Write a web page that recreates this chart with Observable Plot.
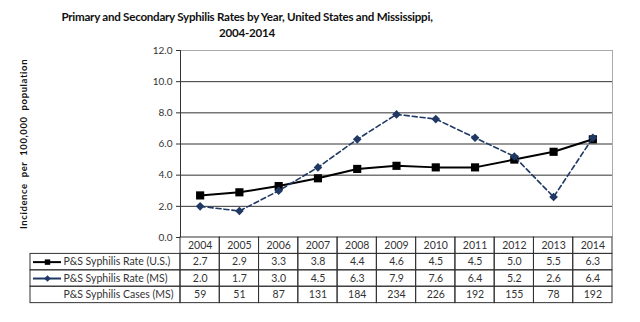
<!DOCTYPE html>
<html><head><meta charset="utf-8">
<script src="https://cdn.jsdelivr.net/npm/d3@7"></script>
<script src="https://cdn.jsdelivr.net/npm/@observablehq/plot@0.6"></script>
<style>
body{margin:0;background:#fff;}
#wrap{position:relative;width:640px;height:322px;overflow:hidden;background:#fff;font-family:Lato,sans-serif;}
#title{position:absolute;left:0;top:9px;width:494px;text-align:center;font-weight:bold;font-size:11.6px;line-height:16px;color:#111;letter-spacing:-0.25px;}
#chart{position:absolute;left:0;top:0;}
</style></head>
<body>
<div id="wrap">
<div id="chart"></div>
<div id="title">Primary and Secondary Syphilis Rates by Year, United States and Mississippi,<br>2004-2014</div>
</div>
<script>
const years = [2004,2005,2006,2007,2008,2009,2010,2011,2012,2013,2014];
const usRate = [2.7,2.9,3.3,3.8,4.4,4.6,4.5,4.5,5.0,5.5,6.3];
const msRate = [2.0,1.7,3.0,4.5,6.3,7.9,7.6,6.4,5.2,2.6,6.4];
const msCases = [59,51,87,131,184,234,226,192,155,78,192];
const yTicks = [0,2,4,6,8,10,12];
const rowLabels = ["P&S Syphilis Rate (U.S.)","P&S Syphilis Rate (MS)","P&S Syphilis Cases (MS)"];
const yTitle = "Incidence per 100,000 population";

const f1 = d3.format(".1f");
const rowH = 1.053;
const x0 = years[0] - 0.5, xN = years[years.length-1] + 0.5;
const msColor = "#1f3864";

const us = years.map((y,i)=>({year:y, v:usRate[i]}));
const ms = years.map((y,i)=>({year:y, v:msRate[i]}));

const rows = [
  {k:0, values: years.map(String)},
  {k:1, values: usRate.map(f1), label: rowLabels[0]},
  {k:2, values: msRate.map(f1), label: rowLabels[1]},
  {k:3, values: msCases.map(String), label: rowLabels[2]}
];
const cells = rows.flatMap(r => years.map((yr,i)=>({year:yr, k:r.k, text:r.values[i]})));
const labelRows = rows.filter(r=>r.label);
const legendRows = [
  {k:1, color:"#000", dash:null, symbol:"square", r:3.4},
  {k:2, color:msColor, dash:"4,3", symbol:"diamond2", r:3.2}
];
const yc = k => -(k+0.5)*rowH;

const plot = Plot.plot({
  width:640, height:322,
  marginTop:50, marginBottom:85, marginLeft:180, marginRight:28,
  style:{fontFamily:"Lato, sans-serif", fontSize:"10px", color:"#333", background:"white"},
  x:{type:"linear", domain:[x0,xN], axis:null},
  y:{domain:[0,12], axis:null},
  marks:[
    Plot.ruleY(yTicks.filter(t=>t>0 && t<12), {stroke:"#333", strokeWidth:1}),
    Plot.ruleY(yTicks.filter(t=>t===12), {stroke:"#aaa", strokeWidth:1}),
    Plot.ruleX([xN], {y1:0, y2:12, stroke:"#aaa"}),
    Plot.ruleX([x0], {y1:0, y2:12, stroke:"#333"}),
    Plot.axisY({ticks:yTicks, tickFormat:f1, tickSize:4, tickPadding:4, label:yTitle, labelAnchor:"center", labelOffset:160, labelArrow:"none", stroke:"#333"}),
    // table cells
    Plot.rect(cells, {x1:d=>d.year-0.5, x2:d=>d.year+0.5, y1:d=>-d.k*rowH, y2:d=>-(d.k+1)*rowH, stroke:"#333", fill:"none"}),
    Plot.rect(labelRows, {x1:()=>x0, x2:()=>x0, y1:d=>-d.k*rowH, y2:d=>-(d.k+1)*rowH, insetLeft:-150, stroke:"#333", fill:"none"}),
    Plot.text(cells, {x:"year", y:d=>yc(d.k), text:"text", fill:"#333", fontSize:10.5}),
    Plot.text(labelRows, {x:()=>x0, y:d=>yc(d.k), text:"label", dx:-117, textAnchor:"start", fill:"#333", fontSize:10.5}),
    Plot.ruleY(legendRows, {y:d=>yc(d.k), x1:()=>x0, x2:()=>x0, insetLeft:-147, insetRight:119, stroke:"color", strokeWidth:2, strokeDasharray:"dash"}),
    Plot.dot(legendRows, {x:()=>x0, y:d=>yc(d.k), dx:-133, symbol:"symbol", r:"r", fill:"color", stroke:"none"}),
    // series
    Plot.line(us, {x:"year", y:"v", stroke:"#000", strokeWidth:2}),
    Plot.dot(us, {x:"year", y:"v", symbol:"square", r:4.6, fill:"#000", stroke:"none"}),
    Plot.line(ms, {x:"year", y:"v", stroke:msColor, strokeWidth:1.6, strokeDasharray:"5,3"}),
    Plot.dot(ms, {x:"year", y:"v", symbol:"diamond2", r:3.9, fill:msColor, stroke:"none"})
  ]
});
plot.setAttribute("style", (plot.getAttribute("style")||"") + ";overflow:visible");
d3.select(plot).selectAll('[aria-label="y-axis label"] text')
  .attr("font-weight","bold").attr("font-size","9.5px").attr("letter-spacing","0.6px").attr("word-spacing","3px").attr("fill","#111");
document.getElementById("chart").appendChild(plot);
</script>
</body></html>
